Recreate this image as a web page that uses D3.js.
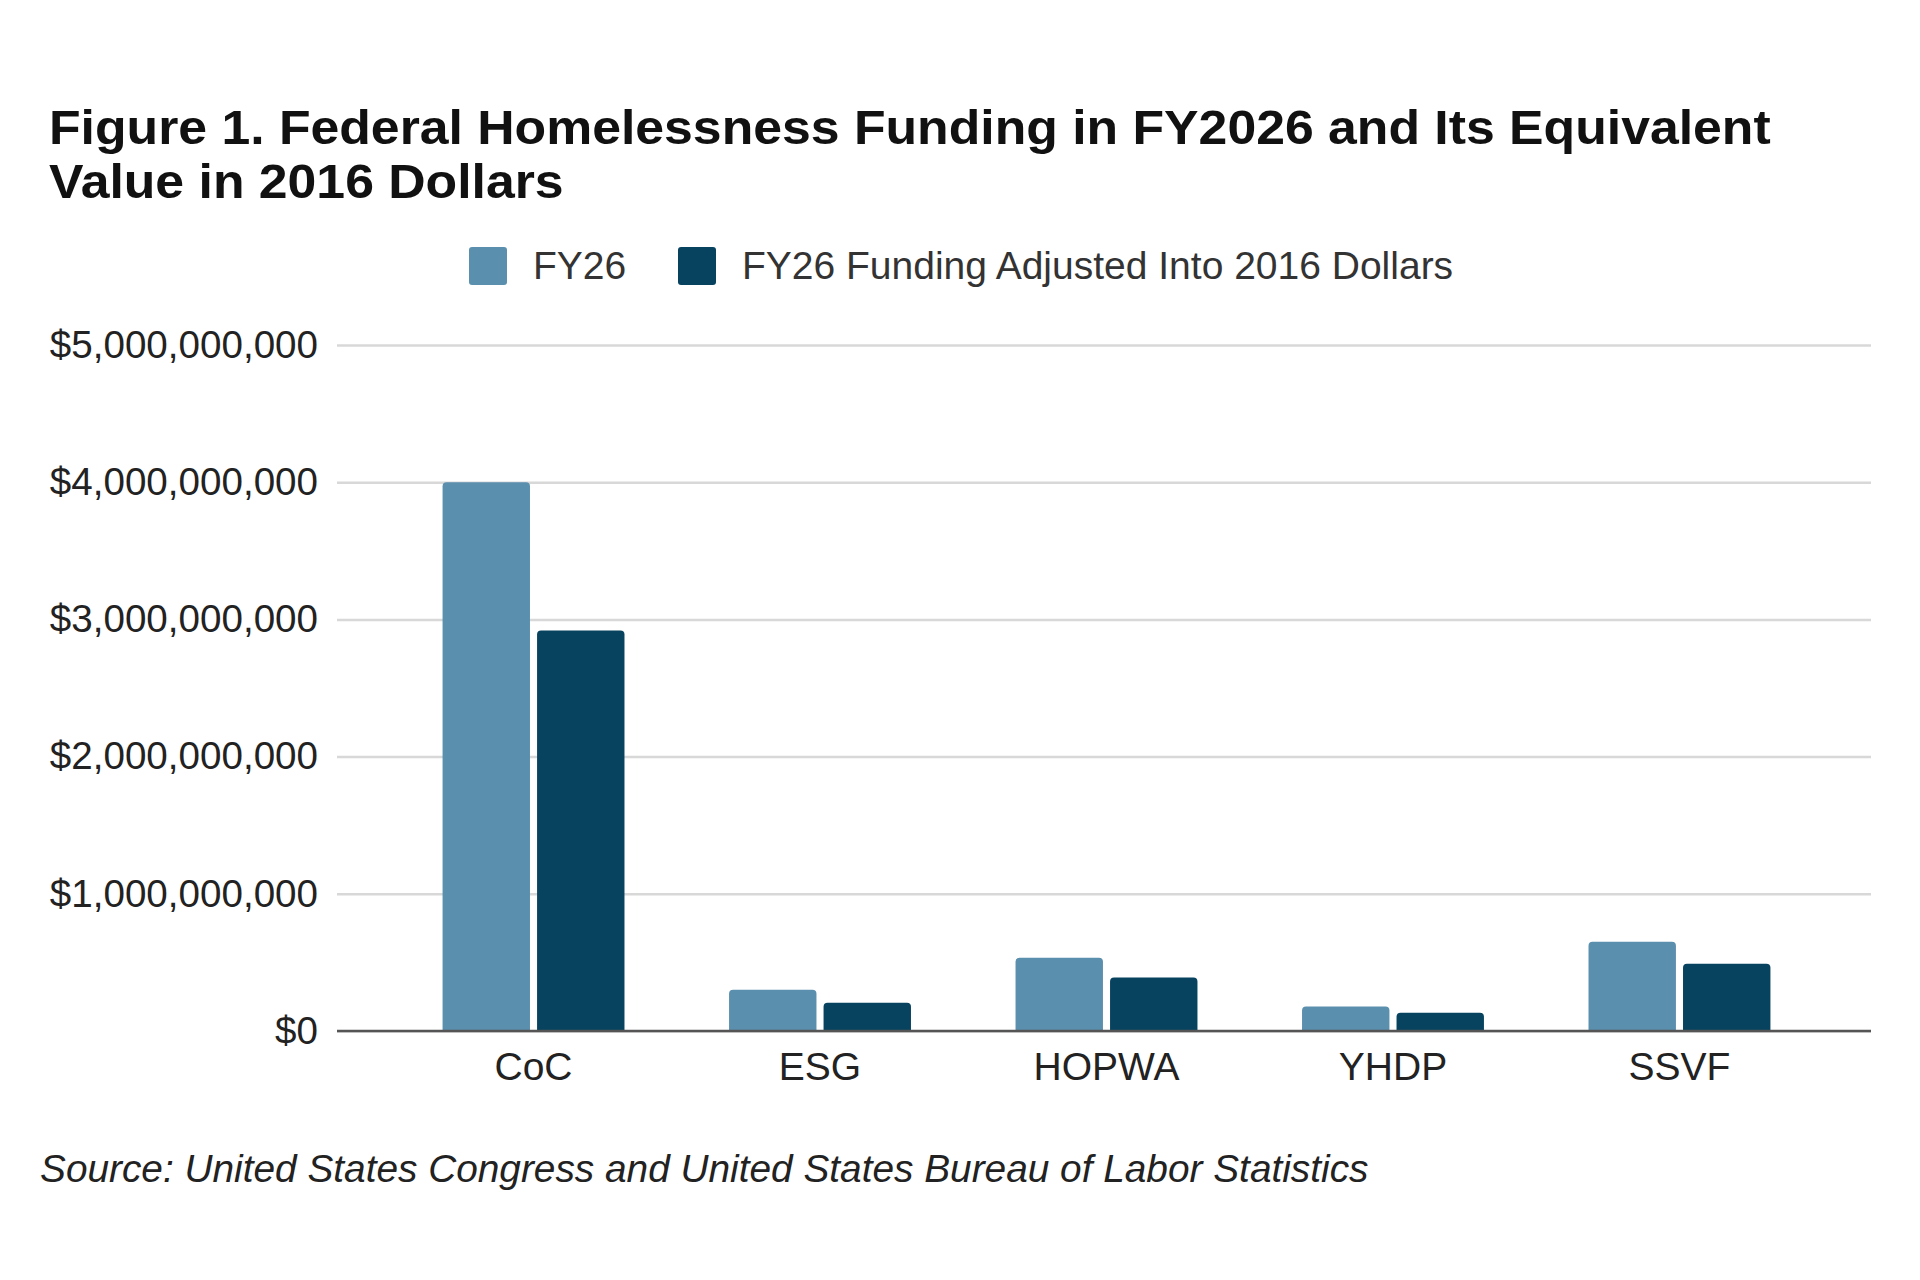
<!DOCTYPE html>
<html>
<head>
<meta charset="utf-8">
<script src="https://cdn.jsdelivr.net/npm/d3@7"></script>
<style>
  html, body { margin: 0; padding: 0; background: #ffffff; }
  svg { display: block; font-family: "Liberation Sans", Arial, sans-serif; }
</style>
</head>
<body>
<svg id="chart" width="1920" height="1280"></svg>
<script>
const categories = ["CoC", "ESG", "HOPWA", "YHDP", "SSVF"];
const seriesNames = ["FY26", "FY26 Funding Adjusted Into 2016 Dollars"];
const fy26Values = [4000000000, 300000000, 533000000, 178000000, 650000000];
const adjustedValues = [2920000000, 205000000, 390000000, 133000000, 490000000];
const yTicks = [0, 1000000000, 2000000000, 3000000000, 4000000000, 5000000000];
const titleLines = ["Figure 1. Federal Homelessness Funding in FY2026 and Its Equivalent", "Value in 2016 Dollars"];
const sourceText = "Source: United States Congress and United States Bureau of Labor Statistics";

const colors = ["#5b8fae", "#07435f"];
const seriesValues = [fy26Values, adjustedValues];

const svg = d3.select("#chart");
const plot = { left: 337, right: 1871, top: 345, bottom: 1031 };

const x0 = d3.scaleBand().domain(categories).range([plot.left + 3, plot.right + 2])
  .paddingInner(0.365).paddingOuter(0.358);
const x1 = d3.scaleBand().domain(seriesNames).range([0, x0.bandwidth()]).paddingInner(0.075);
const y = d3.scaleLinear().domain([0, 5000000000]).range([plot.bottom, plot.top]);

// Title: slightly condensed height, stretched horizontally to match reference width
const titleTexts = svg.append("g").selectAll("text").data(titleLines).join("text")
  .attr("x", 0).attr("y", 0)
  .attr("font-size", 48).attr("font-weight", "bold").attr("fill", "#111")
  .text(d => d);
const firstLen = titleTexts.node().getComputedTextLength();
const sx = 1722 / firstLen;
titleTexts.attr("transform", (d, i) => `translate(49,${i === 0 ? 144 : 198}) scale(${sx},1)`);

// Legend
const legend = svg.append("g");
const legendItems = [{ x: 469, tx: 533 }, { x: 678, tx: 742 }];
seriesNames.forEach((name, i) => {
  legend.append("rect").attr("x", legendItems[i].x).attr("y", 247).attr("width", 38).attr("height", 38)
    .attr("rx", 3).attr("fill", colors[i]);
  legend.append("text").attr("x", legendItems[i].tx).attr("y", 265).attr("dy", "0.35em")
    .attr("font-size", 39).attr("fill", "#333").text(name);
});

// Gridlines + y axis labels
const yAxis = d3.axisLeft(y).tickValues(yTicks)
  .tickFormat(d => "$" + d3.format(",")(d))
  .tickSize(-(plot.right - plot.left)).tickPadding(19);
const gy = svg.append("g").attr("transform", `translate(${plot.left},0)`).call(yAxis);
gy.select(".domain").remove();
gy.selectAll(".tick line").attr("stroke", "#d8d8d8").attr("stroke-width", 2.5);
gy.selectAll(".tick text").attr("font-size", 38.6).attr("fill", "#222")
  .attr("font-family", "Liberation Sans, Arial, sans-serif");

// Bars
const groups = svg.append("g").selectAll("g").data(categories).join("g")
  .attr("transform", d => `translate(${x0(d)},0)`);
const r = 4;
groups.selectAll("path").data((c, ci) => seriesNames.map((s, si) => ({ s, si, v: seriesValues[si][ci] })))
  .join("path")
  .attr("fill", d => colors[d.si])
  .attr("d", d => {
    const bx = x1(d.s), bw = x1.bandwidth(), top = y(d.v), bot = y(0);
    return `M${bx},${bot} L${bx},${top + r} Q${bx},${top} ${bx + r},${top} L${bx + bw - r},${top} Q${bx + bw},${top} ${bx + bw},${top + r} L${bx + bw},${bot} Z`;
  });

// x axis
const xAxis = d3.axisBottom(x0).tickSize(0).tickPadding(21);
const gx = svg.append("g").attr("transform", `translate(0,${plot.bottom})`).call(xAxis);
gx.select(".domain").remove();
gx.selectAll(".tick text").attr("font-size", 39).attr("fill", "#222")
  .attr("font-family", "Liberation Sans, Arial, sans-serif");
svg.append("line").attr("x1", plot.left).attr("x2", plot.right)
  .attr("y1", y(0)).attr("y2", y(0)).attr("stroke", "#555").attr("stroke-width", 2.5);

// Source
svg.append("text").attr("x", 40).attr("y", 1182).attr("font-size", 38.8)
  .attr("font-style", "italic").attr("fill", "#222").text(sourceText);
</script>
</body>
</html>
